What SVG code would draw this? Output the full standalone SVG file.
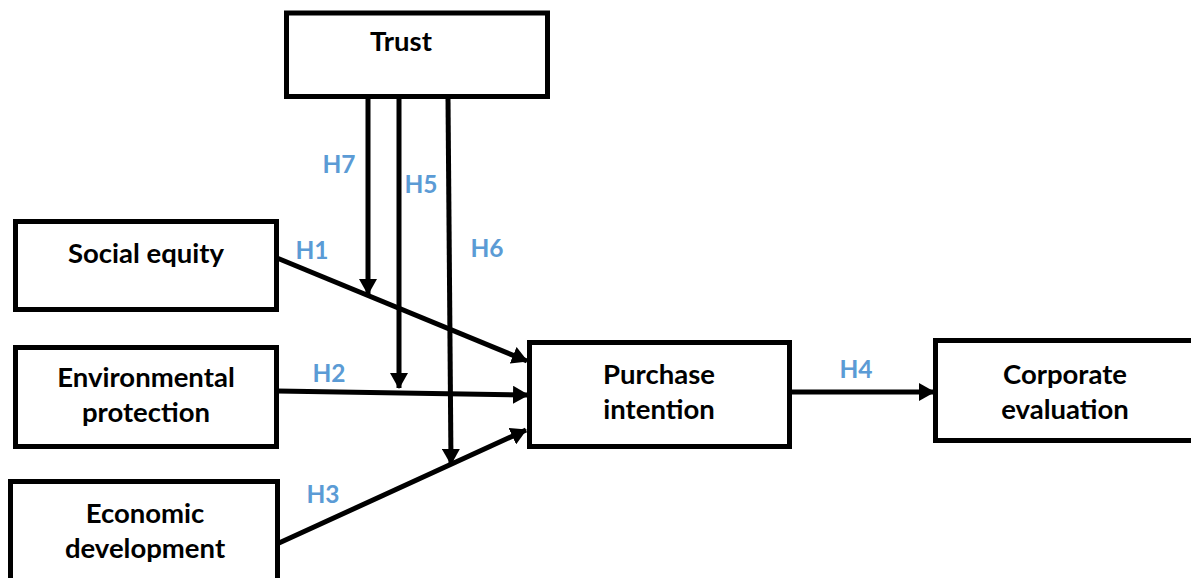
<svg xmlns="http://www.w3.org/2000/svg" width="1191" height="578" viewBox="0 0 1191 578">
  <style>
    .box { fill: #ffffff; stroke: #000000; stroke-width: 5; }
    .lbl { font-family: Lato, "Open Sans", "Liberation Sans", sans-serif; font-weight: bold; font-size: 27.5px; fill: #000000; text-anchor: middle; }
    .hyp { font-family: Lato, "Open Sans", "Liberation Sans", sans-serif; font-weight: bold; font-size: 24.5px; fill: #5B9BD5; text-anchor: middle; }
    .link { fill: none; stroke: #000000; stroke-width: 5; }
  </style>
  <defs>
    <marker id="arrow" markerUnits="userSpaceOnUse" markerWidth="16" markerHeight="18" refX="15" refY="9" orient="auto" viewBox="0 0 16 18">
      <path d="M0,0 L16,9 L0,18 Z" fill="#000000"/>
    </marker>
  </defs>
  <rect width="1191" height="578" fill="#ffffff"/>

  <!-- connectors -->
  <g id="connectors">
    <line class="link" x1="368" y1="98" x2="368" y2="294" marker-end="url(#arrow)"/>
    <line class="link" x1="399" y1="98" x2="399" y2="388" marker-end="url(#arrow)"/>
    <line class="link" x1="448" y1="98" x2="451" y2="464" marker-end="url(#arrow)"/>
    <line class="link" x1="277" y1="258" x2="527" y2="361" marker-end="url(#arrow)"/>
    <line class="link" x1="277" y1="391" x2="528" y2="395" marker-end="url(#arrow)"/>
    <line class="link" x1="279" y1="543" x2="526" y2="430" marker-end="url(#arrow)"/>
    <line class="link" x1="790" y1="392" x2="934" y2="392" marker-end="url(#arrow)"/>
  </g>

  <!-- hypothesis labels -->
  <g id="hypotheses">
    <text class="hyp" x="339" y="173">H7</text>
    <text class="hyp" x="421" y="193">H5</text>
    <text class="hyp" x="487" y="257">H6</text>
    <text class="hyp" x="312" y="259">H1</text>
    <text class="hyp" x="329" y="382">H2</text>
    <text class="hyp" x="323" y="503">H3</text>
    <text class="hyp" x="856" y="378">H4</text>
  </g>

  <g id="trust">
    <rect class="box" x="286.5" y="13" width="261" height="83.5"/>
    <text class="lbl" x="401" y="51">Trust</text>
  </g>

  <g id="social-equity">
    <rect class="box" x="15.5" y="221.5" width="261" height="88"/>
    <text class="lbl" x="146" y="263">Social equity</text>
  </g>

  <g id="environmental-protection">
    <rect class="box" x="15.5" y="347.5" width="261" height="99"/>
    <text class="lbl" x="146" y="387">Environmental</text>
    <text class="lbl" x="146" y="422">protection</text>
  </g>

  <g id="economic-development">
    <rect class="box" x="10.5" y="481.5" width="267" height="110"/>
    <text class="lbl" x="145" y="523">Economic</text>
    <text class="lbl" x="145" y="558">development</text>
  </g>

  <g id="purchase-intention">
    <rect class="box" x="529.5" y="342.5" width="260" height="104"/>
    <text class="lbl" x="659" y="384">Purchase</text>
    <text class="lbl" x="659" y="419">intention</text>
  </g>

  <g id="corporate-evaluation">
    <rect class="box" x="935.5" y="340.5" width="262" height="100"/>
    <text class="lbl" x="1065" y="384">Corporate</text>
    <text class="lbl" x="1065" y="419">evaluation</text>
  </g>
</svg>
